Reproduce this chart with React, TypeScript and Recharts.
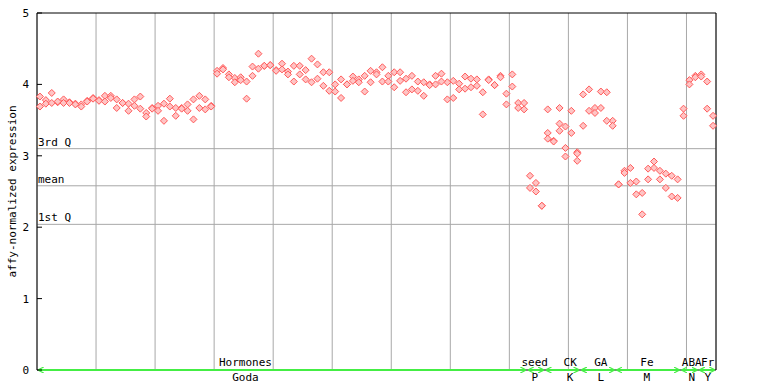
import { CartesianGrid, ReferenceDot, ReferenceLine, Scatter, ScatterChart, XAxis, YAxis } from "recharts"

// two replicate values per sample
const rep1 = [
    3.83, 3.78, 3.88, 3.75, 3.79, 3.75, 3.73, 3.72, 3.77, 3.81,
    3.78, 3.84, 3.84, 3.79, 3.74, 3.73, 3.79, 3.83, 3.60, 3.67,
    3.70, 3.73, 3.80, 3.67, 3.67, 3.72, 3.79, 3.84, 3.79, 3.70,
    4.19, 4.23, 4.14, 4.09, 4.10, 4.04, 4.25, 4.43, 4.26, 4.27,
    4.20, 4.29, 4.18, 4.26, 4.26, 4.20, 4.36, 4.28, 4.17, 4.17,
    4.00, 4.07, 4.00, 4.11, 4.07, 4.12, 4.19, 4.17, 4.24, 4.12,
    4.17, 4.17, 4.08, 4.12, 4.04, 4.03, 4.00, 4.12, 4.15, 4.03,
    4.05, 4.01, 4.11, 4.08, 4.07, 3.89, 4.07, 3.99, 4.12, 3.87,
    4.14, 3.74, 3.74, 2.72, 2.62, 2.30, 3.65, 3.21, 3.67, 3.41,
    3.63, 3.05, 3.86, 3.93, 3.67, 3.90, 3.89, 3.49, 2.60, 2.79,
    2.83, 2.64, 2.48, 2.82, 2.92, 2.79, 2.75, 2.72, 2.67, 3.66,
    4.06, 4.12, 4.14, 4.04, 3.56,
]
const rep2 = [
    3.69, 3.73, 3.74, 3.76, 3.74, 3.74, 3.72, 3.69, 3.76, 3.80,
    3.77, 3.76, 3.81, 3.67, 3.74, 3.63, 3.70, 3.66, 3.55, 3.66,
    3.63, 3.49, 3.69, 3.56, 3.66, 3.63, 3.51, 3.67, 3.65, 3.69,
    4.15, 4.21, 4.10, 4.03, 4.06, 3.80, 4.12, 4.22, 4.26, 4.27,
    4.19, 4.21, 4.14, 4.04, 4.14, 4.07, 4.03, 4.08, 3.98, 3.91,
    3.90, 3.81, 4.00, 4.05, 4.03, 3.90, 4.03, 4.14, 4.04, 4.04,
    3.96, 4.05, 3.89, 3.93, 3.91, 3.84, 3.99, 4.00, 4.04, 3.79,
    3.81, 3.93, 3.94, 3.96, 3.98, 3.58, 4.06, 3.99, 4.10, 3.72,
    3.97, 3.67, 3.65, 2.55, 2.50, 2.30, 3.32, 3.20, 3.45, 3.11,
    3.32, 3.03, 3.42, 3.63, 3.60, 3.67, 3.49, 3.42, 2.60, 2.76,
    2.62, 2.46, 2.18, 2.67, 2.83, 2.67, 2.55, 2.43, 2.41, 3.56,
    4.00, 4.10, 4.11, 3.66, 3.42,
]
// samples with a third replicate
const rep3Sample = [86, 88, 89, 91]
const rep3Value = [3.24, 3.35, 2.99, 2.93]

const quartileNames = ["3rd Q", "mean", "1st Q"]
const quartileValues = [3.10, 2.58, 2.04]

const groupNames = ["Hormones", "seed", "CK", "GA", "Fe", "ABA", "Fr"]
const groupCodes = ["Goda", "P", "K", "L", "M", "N", "Y"]
const groupStart = [0, 83, 86, 92, 98, 109, 112]
const groupEnd = [83, 86, 92, 98, 109, 112, 115]
const groupLabelAt = [35.3, 84.3, 90.3, 95.5, 103.3, 110.9, 113.6]

const yTicks = [0, 1, 2, 3, 4, 5]
const xGrid = [10, 20, 30, 40, 50, 60, 70, 80, 90, 100, 110]

const points = [
    ...rep1.map((v, i) => ({ x: i + 0.5, y: v })),
    ...rep2.map((v, i) => ({ x: i + 0.5, y: v })),
    ...rep3Sample.map((s, k) => ({ x: s + 0.5, y: rep3Value[k] })),
]

const font = "'DejaVu Sans Mono', monospace"
const green = "#44ee44"

const Diamond = (props: any) => {
    const { cx, cy } = props
    const r = 3.5
    return (
        <polygon
            points={`${cx},${cy - r} ${cx + r},${cy} ${cx},${cy + r} ${cx - r},${cy}`}
            fill="#ffc4c4"
            stroke="#ff5a5a"
            strokeWidth={1}
        />
    )
}

const LeftTick = (props: any) => {
    const { x, y, payload } = props
    return (
        <g>
            <line x1={x + 8} x2={x + 13} y1={y} y2={y} stroke="#000" />
            <text x={x} y={y} dy={4} textAnchor="end" fontFamily={font} fontSize={11} fill="#000">
                {payload.value}
            </text>
        </g>
    )
}

const RightTick = (props: any) => {
    const { x, y } = props
    return <line x1={x - 5} x2={x} y1={y} y2={y} stroke="#000" />
}

const YLabel = (props: any) => {
    const vb = props.viewBox
    const x = vb.x + 5
    const y = vb.y + vb.height / 2
    return (
        <text
            x={x}
            y={y}
            transform={`rotate(-90 ${x} ${y})`}
            textAnchor="middle"
            dominantBaseline="central"
            fontFamily={font}
            fontSize={11}
            fill="#000"
        >
            affy-normalized expression
        </text>
    )
}

export default function App() {
    return (
        <div style={{ position: "absolute", left: 0, top: 0, width: 768, height: 384, background: "#fff" }}>
            <ScatterChart width={768} height={384} margin={{ top: 13, right: 42, bottom: 13, left: 7 }}>
                <defs>
                    <marker id="arr" viewBox="0 0 6 6" refX="5" refY="3" markerWidth="6" markerHeight="6" markerUnits="userSpaceOnUse" orient="auto-start-reverse">
                        <path d="M0,0 L6,3 L0,6" fill="none" stroke={green} strokeWidth={1.2} />
                    </marker>
                </defs>
                <CartesianGrid yAxisId="l" horizontal={false} stroke="#a8a8a8" strokeWidth={1} />
                <XAxis
                    type="number"
                    dataKey="x"
                    domain={[0, 115]}
                    ticks={xGrid}
                    tick={false}
                    tickLine={false}
                    height={1}
                    axisLine={false}
                />
                <YAxis
                    yAxisId="l"
                    type="number"
                    dataKey="y"
                    domain={[0, 5]}
                    ticks={yTicks}
                    width={30}
                    tickLine={false}
                    tickSize={0}
                    tickMargin={8}
                    tick={<LeftTick />}
                    axisLine={{ stroke: "#000" }}
                    label={{ content: <YLabel /> }}
                />
                <YAxis
                    yAxisId="r"
                    orientation="right"
                    type="number"
                    domain={[0, 5]}
                    ticks={yTicks}
                    width={10}
                    tickLine={false}
                    tickSize={0}
                    tickMargin={0}
                    tick={<RightTick />}
                    axisLine={{ stroke: "#000" }}
                />
                {xGrid.map((v) => (
                    <ReferenceLine key={"g" + v} yAxisId="l" x={v} stroke="#a8a8a8" />
                ))}
                <ReferenceLine yAxisId="l" y={5} stroke="#000" />
                {quartileValues.map((v, i) => (
                    <ReferenceLine
                        key={quartileNames[i]}
                        yAxisId="l"
                        y={v}
                        stroke="#a8a8a8"
                        label={(p: any) => (
                            <text x={p.viewBox.x + 1} y={p.viewBox.y - 3} fontFamily={font} fontSize={11} fill="#000">
                                {quartileNames[i]}
                            </text>
                        )}
                    />
                ))}
                <Scatter yAxisId="l" data={points} shape={<Diamond />} isAnimationActive={false} />
                <ReferenceLine yAxisId="l" y={0} stroke="#000" />
                {groupNames.map((g, i) => (
                    <ReferenceLine
                        key={g}
                        yAxisId="l"
                        segment={[
                            { x: groupStart[i] + 0.3, y: 0 },
                            { x: groupEnd[i] - 0.3, y: 0 },
                        ]}
                        stroke={green}
                        strokeWidth={2}
                        markerStart="url(#arr)"
                        markerEnd="url(#arr)"
                        ifOverflow="visible"
                    />
                ))}
                {groupNames.map((g, i) => (
                    <ReferenceDot
                        key={"l" + g}
                        yAxisId="l"
                        x={groupLabelAt[i]}
                        y={0}
                        r={1}
                        fill="none"
                        stroke="none"
                        ifOverflow="visible"
                        label={(p: any) => {
                            const cx = p.viewBox.x + p.viewBox.width / 2
                            const cy = p.viewBox.y + p.viewBox.height / 2
                            return (
                                <g fontFamily={font} fontSize={11} fill="#000">
                                    <text x={cx} y={cy - 4} textAnchor="middle">{g}</text>
                                    <text x={cx} y={cy + 11} textAnchor="middle">{groupCodes[i]}</text>
                                </g>
                            )
                        }}
                    />
                ))}
            </ScatterChart>
        </div>
    )
}
